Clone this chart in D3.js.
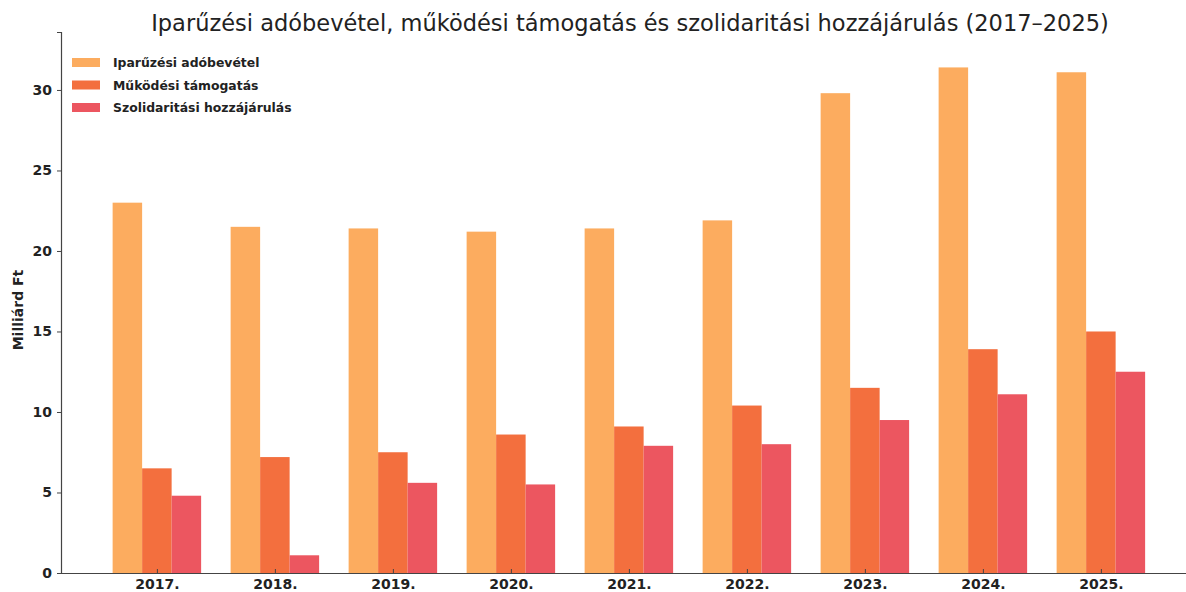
<!DOCTYPE html>
<html>
<head>
<meta charset="utf-8">
<script src="https://cdn.jsdelivr.net/npm/d3@7"></script>
<style>
  body { margin: 0; background: #fff; }
  text { font-family: "DejaVu Sans", sans-serif; fill: #222; }
</style>
</head>
<body>
<svg></svg>
<script>
let width = 1186;
let height = 592;

// data
let years = ['2017.', '2018.', '2019.', '2020.', '2021.', '2022.', '2023.', '2024.', '2025.'];
let seriesNames = ['Iparűzési adóbevétel', 'Működési támogatás', 'Szolidaritási hozzájárulás'];
let iparuzesi = [23.0, 21.5, 21.4, 21.2, 21.4, 21.9, 29.8, 31.4, 31.1];
let mukodesi = [6.5, 7.2, 7.5, 8.6, 9.1, 10.4, 11.5, 13.9, 15.0];
let szolidaritasi = [4.8, 1.1, 5.6, 5.5, 7.9, 8.0, 9.5, 11.1, 12.5];
let yTicks = [0, 5, 10, 15, 20, 25, 30];

let colors = ['#fcac5f', '#f36f3e', '#ec5660'];
let series = [iparuzesi, mukodesi, szolidaritasi];

let svg = d3.select('svg')
            .attr('width', width)
            .attr('height', height);

let plotLeft = 61, plotBottom = 573, plotTop = 32;

// index based x scale, bar width 0.25
let x = d3.scaleLinear()
          .domain([-0.8125, 8.8125])
          .range([plotLeft, plotLeft + 9.625 * 118]);

let y = d3.scaleLinear()
          .domain([0, 33.6])
          .range([plotBottom, plotTop]);

let barW = x(0.25) - x(0);

// bars
series.forEach(function(vals, s) {
  svg.append('g')
     .selectAll('rect')
     .data(vals)
     .enter()
     .append('rect')
     .attr('x', function(d, i) { return x(i + (s - 1) * 0.25 - 0.125); })
     .attr('y', function(d) { return y(d); })
     .attr('width', barW)
     .attr('height', function(d) { return y(0) - y(d); })
     .attr('fill', colors[s]);
});

// y axis
let yAxis = d3.axisLeft(y)
              .tickValues(yTicks)
              .tickSize(4)
              .tickPadding(5);

let gy = svg.append('g')
            .attr('transform', 'translate(' + plotLeft + ',0)')
            .call(yAxis);
gy.select('.domain').attr('stroke', '#444').attr('stroke-width', 1.2);
gy.selectAll('.tick line').attr('stroke', '#444');
gy.selectAll('.tick text')
  .style('font-size', '14px')
  .style('font-weight', 'bold')
  .attr('fill', '#222');

// x axis
let xAxis = d3.axisBottom(x)
              .tickValues(d3.range(years.length))
              .tickFormat(function(d) { return years[d]; })
              .tickSize(-4)
              .tickPadding(6)
              .tickSizeOuter(0);

let gx = svg.append('g')
            .attr('transform', 'translate(0,' + plotBottom + ')')
            .call(xAxis);
gx.select('.domain').attr('stroke', '#444').attr('stroke-width', 1.2);
gx.selectAll('.tick line').attr('stroke', '#444');
gx.selectAll('.tick text')
  .style('font-size', '14px')
  .style('font-weight', 'bold')
  .attr('fill', '#222');

// y label
svg.append('text')
   .attr('transform', 'translate(23,310) rotate(-90)')
   .attr('text-anchor', 'middle')
   .style('font-size', '14px')
   .style('font-weight', 'bold')
   .text('Milliárd Ft');

// title
svg.append('text')
   .attr('x', 630)
   .attr('y', 31)
   .attr('text-anchor', 'middle')
   .style('font-size', '22.5px')
   .text('Iparűzési adóbevétel, működési támogatás és szolidaritási hozzájárulás (2017–2025)');

// legend
let legend = svg.append('g')
                .attr('transform', 'translate(72,58)');

legend.selectAll('rect')
      .data(seriesNames)
      .enter()
      .append('rect')
      .attr('x', 0)
      .attr('y', function(d, i) { return i * 22.5; })
      .attr('width', 28)
      .attr('height', 9)
      .attr('fill', function(d, i) { return colors[i]; });

legend.selectAll('text')
      .data(seriesNames)
      .enter()
      .append('text')
      .attr('x', 41)
      .attr('y', function(d, i) { return i * 22.5 + 9; })
      .style('font-size', '12.4px')
      .style('font-weight', 'bold')
      .text(function(d) { return d; });
</script>
</body>
</html>
